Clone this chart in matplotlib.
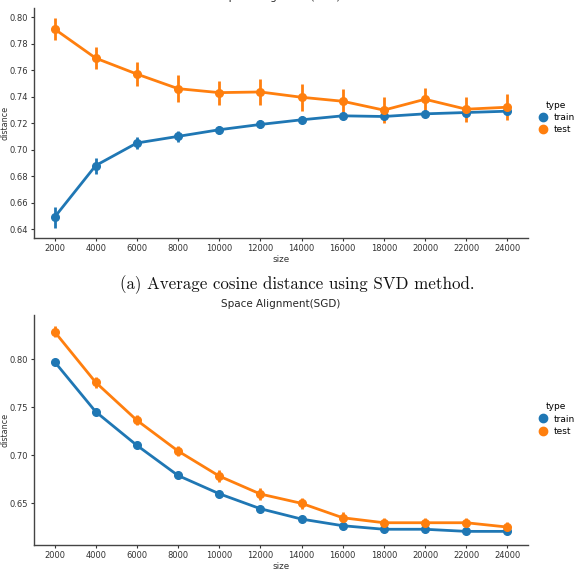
import matplotlib.pyplot as plt

# sizes on the x axis (categorical, like a seaborn pointplot)
sizes = ['2000', '4000', '6000', '8000', '10000', '12000', '14000',
         '16000', '18000', '20000', '22000', '24000']

# SVD panel
svd_train = [0.649, 0.688, 0.705, 0.710, 0.715, 0.719, 0.7225, 0.7255, 0.725, 0.727, 0.728, 0.729]
svd_train_err = [0.008, 0.006, 0.0045, 0.004, 0.003, 0.003, 0.0025, 0.002, 0.002, 0.002, 0.002, 0.002]
svd_test = [0.791, 0.769, 0.757, 0.746, 0.743, 0.7435, 0.7395, 0.7365, 0.7298, 0.738, 0.7305, 0.732]
svd_test_err = [0.0085, 0.0085, 0.009, 0.010, 0.009, 0.0095, 0.010, 0.0095, 0.010, 0.0088, 0.0095, 0.0097]

# SGD panel
sgd_train = [0.7975, 0.7454, 0.7104, 0.679, 0.660, 0.6444, 0.6336, 0.6267, 0.623, 0.623, 0.6208, 0.6208]
sgd_train_err = [0.002, 0.002, 0.002, 0.002, 0.002, 0.002, 0.002, 0.002, 0.002, 0.002, 0.002, 0.002]
sgd_test = [0.8288, 0.776, 0.7365, 0.7045, 0.6784, 0.6597, 0.650, 0.635, 0.6298, 0.6298, 0.6298, 0.6253]
sgd_test_err = [0.006, 0.006, 0.005, 0.005, 0.006, 0.006, 0.006, 0.006, 0.005, 0.005, 0.005, 0.005]

types = ['train', 'test']
colors = ['#1f77b4', '#ff7f0e']

plt.rcParams['font.family'] = 'DejaVu Sans'
plt.rcParams['axes.formatter.use_mathtext'] = True

fig = plt.figure(figsize=(5.85, 5.74), dpi=100)
ax1 = fig.add_axes([0.058, 0.585, 0.8445, 0.401])
ax2 = fig.add_axes([0.058, 0.0505, 0.8445, 0.4005])

x = list(range(len(sizes)))


def draw(ax, train, train_err, test, test_err, title, ylim, yticks):
    for vals, errs, c, lab in [(train, train_err, colors[0], types[0]),
                               (test, test_err, colors[1], types[1])]:
        ax.errorbar(x, vals, yerr=errs, color=c, lw=2.0, elinewidth=2.0,
                    marker='o', ms=5.5, capsize=0, label=lab)
    ax.set_xlim(-0.5, 11.5)
    ax.set_ylim(*ylim)
    ax.set_yticks(yticks)
    ax.set_yticklabels(['%.2f' % t for t in yticks])
    ax.set_xticks(x)
    ax.set_xticklabels(sizes)
    ax.tick_params(labelsize=6.0, colors='#333333', length=2.5, pad=2.0)
    ax.set_xlabel('size', fontsize=6.3, color='#333333', labelpad=1)
    ax.set_ylabel('distance', fontsize=5.8, color='#333333')
    ax.yaxis.set_label_coords(-0.049, 0.5)
    ax.set_title(title, fontsize=7.5, color='#262626', pad=5.5)
    for s in ['top', 'right']:
        ax.spines[s].set_visible(False)
    for s in ['left', 'bottom']:
        ax.spines[s].set_color('#444444')
        ax.spines[s].set_linewidth(1.0)


draw(ax1, svd_train, svd_train_err, svd_test, svd_test_err,
     'Space Alignment(SVD)', (0.6332, 0.8068),
     [0.64, 0.66, 0.68, 0.70, 0.72, 0.74, 0.76, 0.78, 0.80])
draw(ax2, sgd_train, sgd_train_err, sgd_test, sgd_test_err,
     'Space Alignment(SGD)', (0.6066, 0.846),
     [0.65, 0.70, 0.75, 0.80])

# legends outside on the right, seaborn factorplot style
for ax, ly in [(ax1, 0.795), (ax2, 0.27)]:
    handles = [plt.Line2D([], [], ls='', marker='o', ms=6, color=c) for c in colors]
    fig.legend(handles, types, title='type', loc='center', bbox_to_anchor=(0.95, ly),
               frameon=False, fontsize=6.5, title_fontsize=6.5, handletextpad=0.5,
               labelspacing=0.35, borderpad=0, handlelength=1.3)

fig.text(0.5085, 1 - 285 / 574, '(a) Average cosine distance using SVD method.',
         family='cmr10', fontsize=12.2, ha='center', va='center', color='#111111')

fig.savefig('out.png', dpi=100)
